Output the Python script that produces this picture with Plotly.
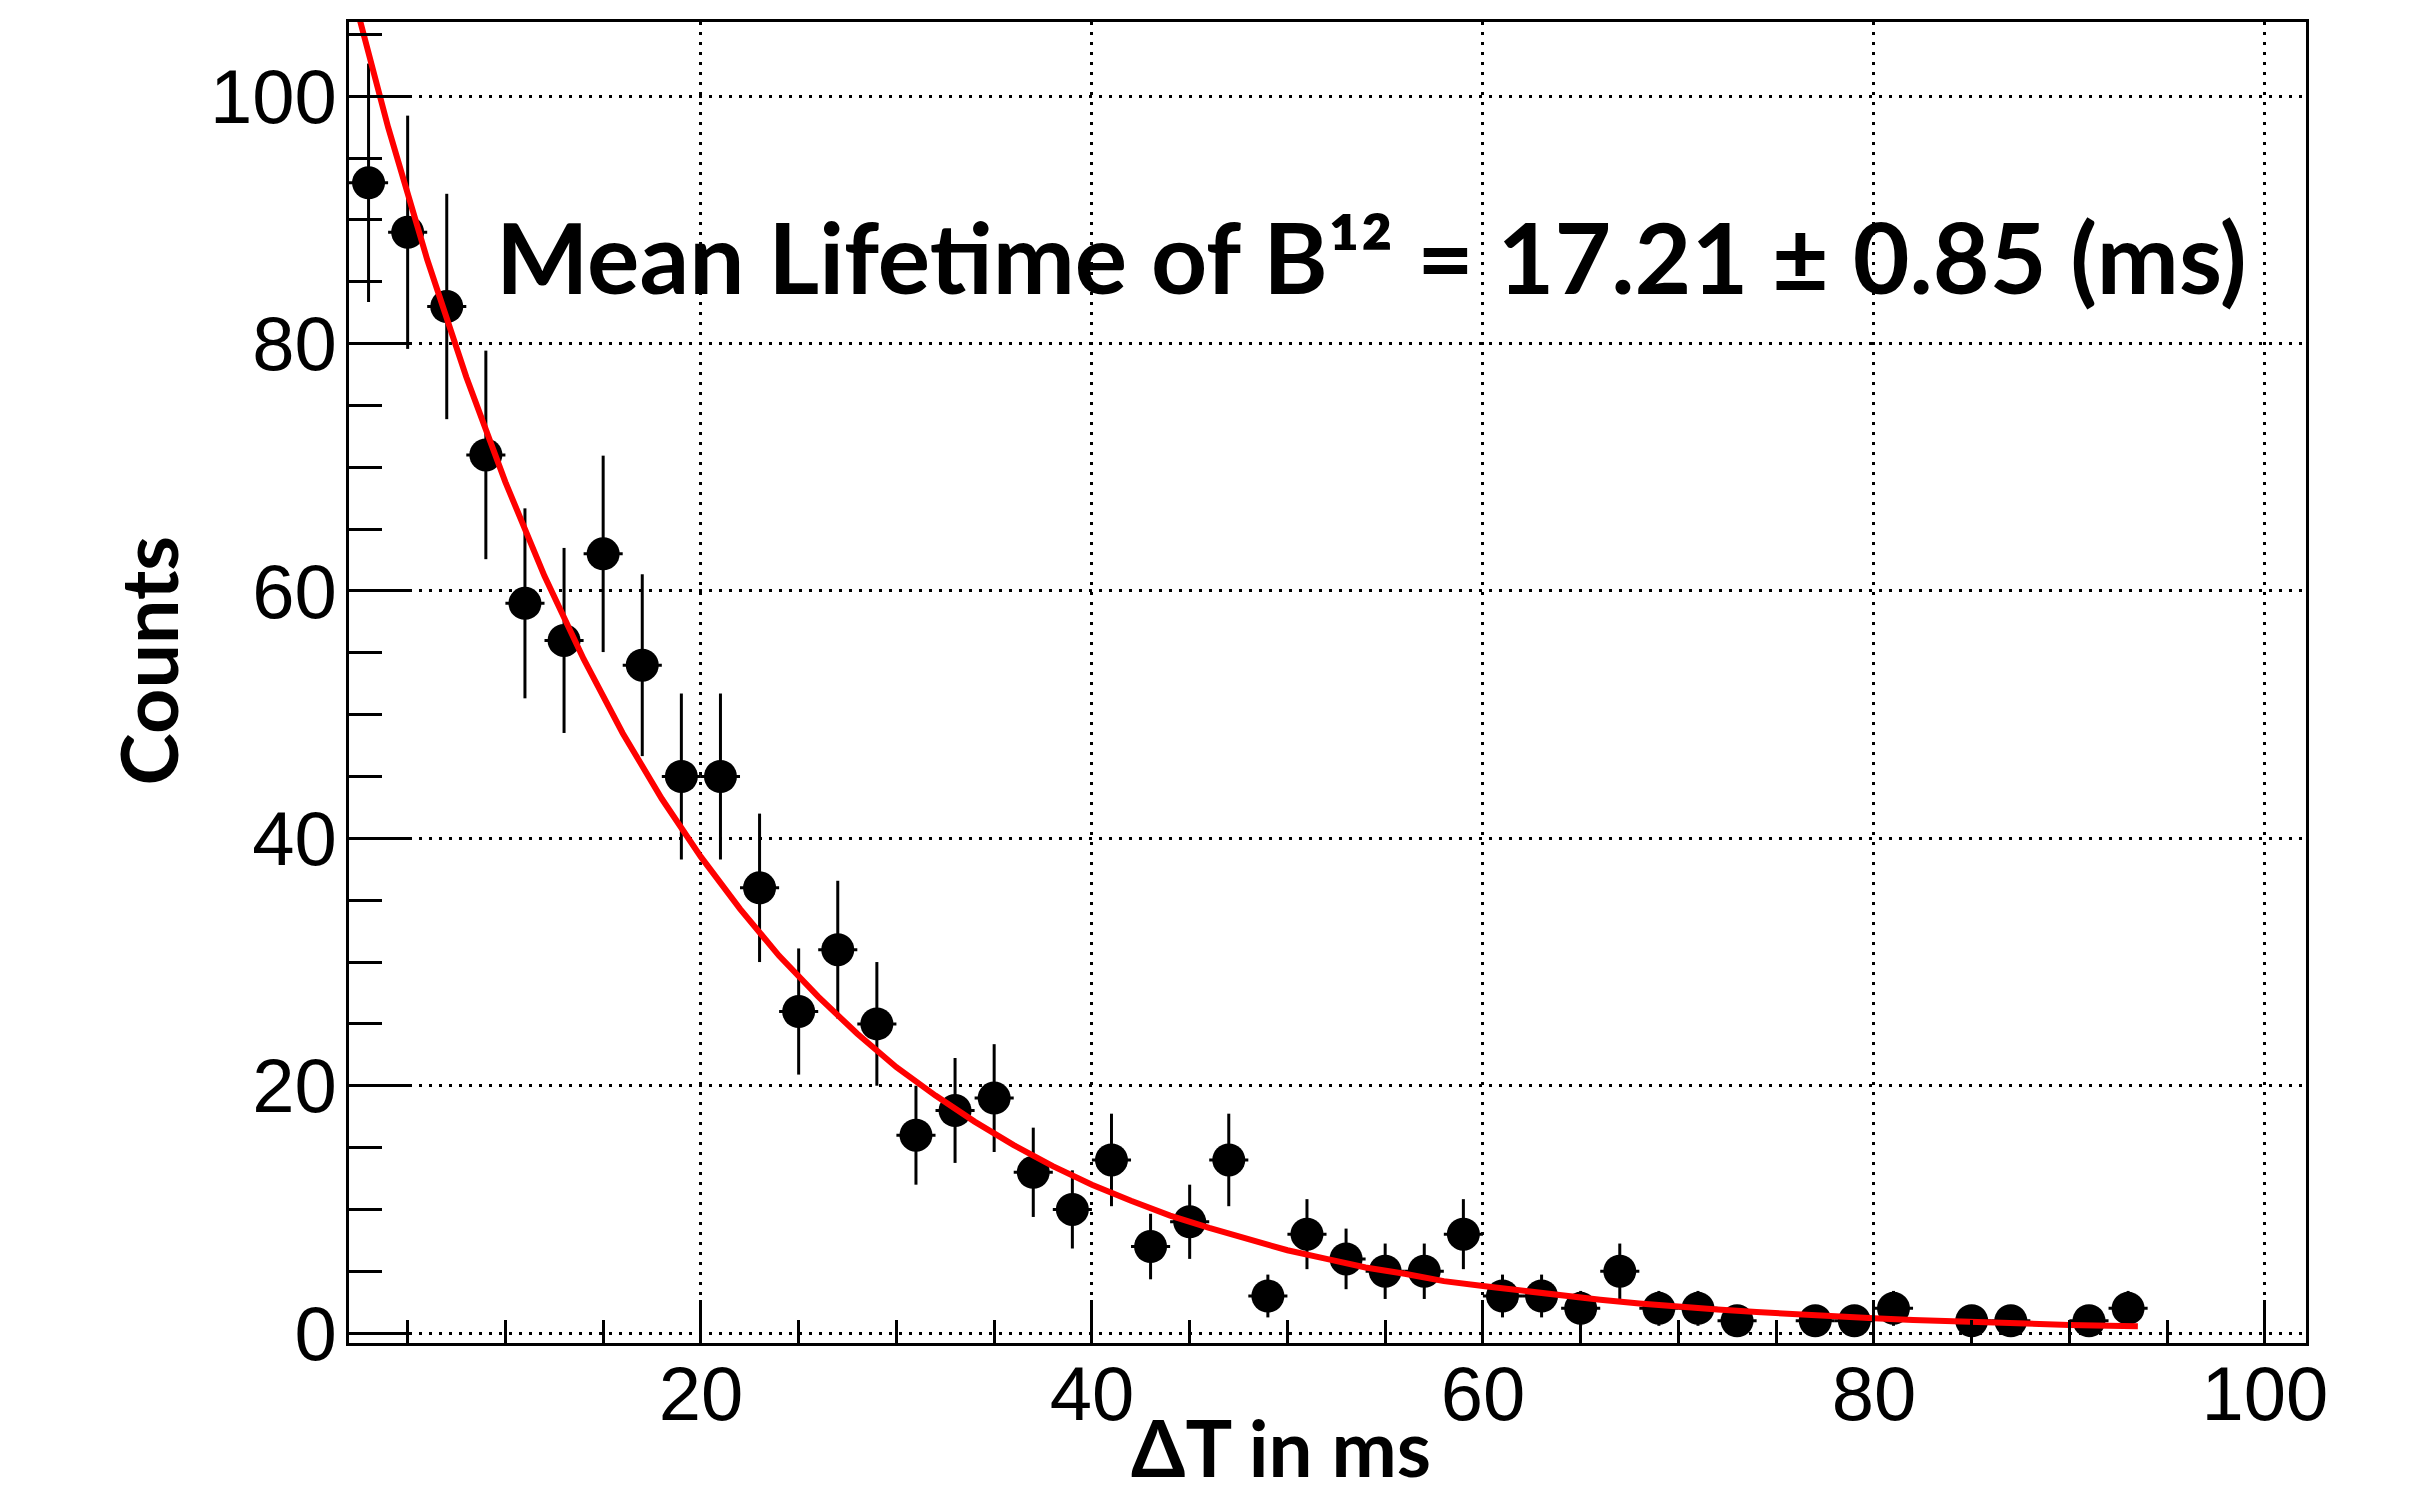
import plotly.graph_objects as go

# Histogram bin centres (ms) and counts
bin_centers = [3, 5, 7, 9, 11, 13, 15, 17, 19, 21, 23, 25, 27, 29, 31, 33, 35, 37, 39, 41,
               43, 45, 47, 49, 51, 53, 55, 57, 59, 61, 63, 65, 67, 69, 71, 73, 77, 79, 81,
               85, 87, 91, 93]
counts = [93, 89, 83, 71, 59, 56, 63, 54, 45, 45, 36, 26, 31, 25, 16, 18, 19, 13, 10, 14,
          7, 9, 14, 3, 8, 6, 5, 5, 8, 3, 3, 2, 5, 2, 2, 1, 1, 1, 2,
          1, 1, 1, 2]
# Statistical (Poisson) errors shown as vertical bars
count_errors = [9.64, 9.43, 9.11, 8.43, 7.68, 7.48, 7.94, 7.35, 6.71, 6.71, 6.0, 5.10, 5.57,
                5.0, 4.0, 4.24, 4.36, 3.61, 3.16, 3.74, 2.65, 3.0, 3.74, 1.73, 2.83, 2.45,
                2.24, 2.24, 2.83, 1.73, 1.73, 1.41, 2.24, 1.41, 1.41, 1.0, 1.0, 1.0, 1.41,
                1.0, 1.0, 1.0, 1.41]
bin_half_width = 1

# Fitted exponential curve
fit_x = [2, 4, 6, 8, 10, 12, 14, 16, 18, 20, 22, 24, 26, 28, 30, 32, 34, 36, 38, 40, 42, 44,
         46, 48, 50, 52, 54, 56, 58, 60, 62, 64, 66, 68, 70, 72, 74, 76, 78, 80, 82, 84, 86,
         88, 90, 92, 93.5]
fit_y = [109.5, 97.5, 86.8, 77.3, 68.8, 61.2, 54.5, 48.5, 43.2, 38.5, 34.3, 30.5, 27.2, 24.2,
         21.5, 19.2, 17.1, 15.2, 13.5, 12.0, 10.7, 9.5, 8.5, 7.6, 6.7, 6.0, 5.3, 4.8, 4.2, 3.8,
         3.4, 3.0, 2.7, 2.4, 2.1, 1.9, 1.7, 1.5, 1.3, 1.2, 1.05, 0.93, 0.83, 0.74, 0.66, 0.59,
         0.55]

x_ticks = [20, 40, 60, 80, 100]
y_ticks = [0, 20, 40, 60, 80, 100]

title_text = "Mean Lifetime of B¹² = 17.21 ± 0.85 (ms)"
x_title = "ΔT in ms"
y_title = "Counts"

fig = go.Figure()
fig.add_trace(go.Scatter(
    x=bin_centers, y=counts, mode="markers",
    marker=dict(size=33, color="black", symbol="circle"),
    error_y=dict(type="data", array=count_errors, thickness=3, width=0, color="black"),
    error_x=dict(type="constant", value=bin_half_width, thickness=3, width=0, color="black"),
    showlegend=False,
))
fig.add_trace(go.Scatter(
    x=fit_x, y=fit_y, mode="lines",
    line=dict(color="#ff0000", width=6),
    showlegend=False,
))

tick_font = dict(family="Liberation Sans, Arial, sans-serif", size=76, color="black")
grid_dash = "3px,7px"

fig.update_layout(
    width=2422, height=1488,
    margin=dict(l=341, r=124, t=14, b=153, pad=0),
    plot_bgcolor="white", paper_bgcolor="white",
    xaxis=dict(
        range=[2, 102.1], tickmode="array", tickvals=x_ticks,
        ticks="inside", ticklen=43, tickwidth=3, tickcolor="black",
        showline=True, linewidth=3, linecolor="black", mirror=True,
        showgrid=True, gridcolor="black", gridwidth=3, griddash=grid_dash,
        zeroline=False, tickfont=tick_font, ticklabelstandoff=-17,
        minor=dict(tick0=0, dtick=5, ticks="inside", ticklen=23, tickwidth=3,
                   tickcolor="black", showgrid=False),
    ),
    yaxis=dict(
        range=[-0.8, 106], tickmode="array", tickvals=y_ticks,
        ticks="inside", ticklen=63, tickwidth=3, tickcolor="black",
        showline=True, linewidth=3, linecolor="black", mirror=True,
        showgrid=True, gridcolor="black", gridwidth=3, griddash=grid_dash,
        zeroline=False, tickfont=tick_font, ticklabelstandoff=-6,
        minor=dict(tick0=0, dtick=5, ticks="inside", ticklen=33, tickwidth=3,
                   tickcolor="black", showgrid=False),
    ),
    annotations=[
        dict(text=title_text, xref="paper", yref="paper", x=0.5227, y=0.8225,
             xanchor="center", yanchor="middle", showarrow=False,
             font=dict(family="Lato", size=98, color="black", weight=700)),
        dict(text=x_title, xref="paper", yref="paper", x=0.4762, y=-0.079,
             xanchor="center", yanchor="middle", showarrow=False,
             font=dict(family="Lato", size=78, color="black", weight=700)),
        dict(text=y_title, xref="paper", yref="paper", x=-0.1032, y=0.516,
             xanchor="center", yanchor="middle", showarrow=False, textangle=-90,
             font=dict(family="Lato", size=79, color="black", weight=700)),
    ],
)

fig.write_html("out.html")
